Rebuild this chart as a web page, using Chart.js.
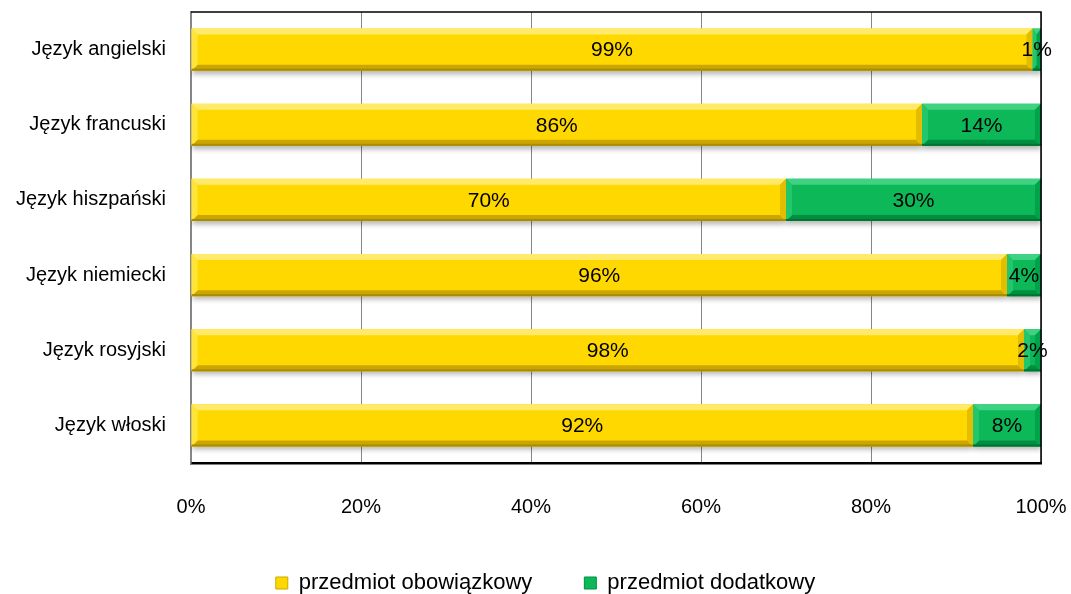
<!DOCTYPE html>
<html>
<head>
<meta charset="utf-8">
<script src="https://cdn.jsdelivr.net/npm/chart.js@4.4.1/dist/chart.umd.min.js"></script>
<style>
  html, body { margin: 0; padding: 0; background: #fff; }
  #wrap { width: 1071px; height: 594px; position: relative; }
</style>
</head>
<body>
<div id="wrap"><canvas id="chart" width="1071" height="594"></canvas></div>
<script>
// data
const categories = ['Język angielski', 'Język francuski', 'Język hiszpański', 'Język niemiecki', 'Język rosyjski', 'Język włoski']
const obowiazkowy = [99, 86, 70, 96, 98, 92]
const dodatkowy = [1, 14, 30, 4, 2, 8]
const tickLabels = ['0%', '20%', '40%', '60%', '80%', '100%']
const seriesNames = ['przedmiot obowiązkowy', 'przedmiot dodatkowy']

const FONT = "'Liberation Sans', Arial, sans-serif"

// bevel shades per series
const shades = [
  { top: '#FFEA6A', bottom: '#CCA600', left: '#FFE43E', right: '#E2BD00', line: '#A98C00' },
  { top: '#40D283', bottom: '#008F40', left: '#22C66C', right: '#00A24A', line: '#007433' }
]

const noPad = scale => {
  scale.paddingTop = 0
  scale.paddingBottom = 0
  scale.paddingLeft = 0
  scale.paddingRight = 0
}

// the legend sits a bit right of centre in the original
const legendShift = {
  id: 'legendShift',
  afterLayout(chart) {
    chart.legend.left += 25
    chart.legend.right += 25
  }
}

const bevelPlugin = {
  id: 'bevel',
  beforeDatasetsDraw(chart) {
    const ctx = chart.ctx
    ctx.save()
    ctx.shadowColor = 'rgba(0,0,0,0.28)'
    ctx.shadowBlur = 5
    ctx.shadowOffsetY = 4
  },
  afterDatasetsDraw(chart) {
    const ctx = chart.ctx
    ctx.restore()
    const b = 6
    chart.data.datasets.forEach((ds, i) => {
      const s = shades[i]
      chart.getDatasetMeta(i).data.forEach(el => {
        const p = el.getProps(['x', 'y', 'base', 'height'], true)
        const x0 = Math.min(p.x, p.base), x1 = Math.max(p.x, p.base)
        const y0 = p.y - p.height / 2, y1 = p.y + p.height / 2
        if (x1 - x0 < 1) return
        const bb = Math.min(b, (x1 - x0) / 2)
        const poly = (pts, c) => {
          ctx.beginPath()
          ctx.moveTo(pts[0][0], pts[0][1])
          pts.slice(1).forEach(q => ctx.lineTo(q[0], q[1]))
          ctx.closePath()
          ctx.fillStyle = c
          ctx.fill()
        }
        poly([[x0, y0], [x1, y0], [x1 - bb, y0 + b], [x0 + bb, y0 + b]], s.top)
        poly([[x0, y1], [x1, y1], [x1 - bb, y1 - b], [x0 + bb, y1 - b]], s.bottom)
        poly([[x0, y0], [x0 + bb, y0 + b], [x0 + bb, y1 - b], [x0, y1]], s.left)
        poly([[x1, y0], [x1 - bb, y0 + b], [x1 - bb, y1 - b], [x1, y1]], s.right)
        ctx.fillStyle = s.line
        ctx.fillRect(x0, y1 - 2, x1 - x0, 2)
      })
    })

    // value labels
    ctx.save()
    ctx.font = '21px ' + FONT
    ctx.fillStyle = '#000'
    ctx.textAlign = 'center'
    ctx.textBaseline = 'middle'
    chart.data.datasets.forEach((ds, i) => {
      chart.getDatasetMeta(i).data.forEach((el, j) => {
        const p = el.getProps(['x', 'y', 'base'], true)
        ctx.fillText(ds.data[j] + '%', (p.x + p.base) / 2, p.y + 1)
      })
    })
    ctx.restore()

    // plot area frame (top / right)
    const a = chart.chartArea
    ctx.save()
    ctx.strokeStyle = '#000'
    ctx.lineWidth = 1.5
    ctx.beginPath()
    ctx.moveTo(a.left, a.top)
    ctx.lineTo(a.right, a.top)
    ctx.lineTo(a.right, a.bottom)
    ctx.stroke()
    ctx.restore()
  }
}

const ctx = document.getElementById('chart')

new Chart(ctx, {
  type: 'bar',
  data: {
    labels: categories,
    datasets: [
      {
        label: seriesNames[0],
        data: obowiazkowy,
        backgroundColor: '#FFD800',
        borderWidth: 0
      },
      {
        label: seriesNames[1],
        data: dodatkowy,
        backgroundColor: '#0DB859',
        borderWidth: 0
      }
    ]
  },
  options: {
    indexAxis: 'y',
    responsive: false,
    animation: false,
    events: [],
    layout: { padding: { top: 12, right: 30, left: 0, bottom: -10 } },
    datasets: {
      bar: { categoryPercentage: 1, barPercentage: 0.56 }
    },
    scales: {
      x: {
        stacked: true,
        min: 0,
        max: 100,
        afterFit(scale) { scale.height = 57; noPad(scale) },
        ticks: {
          stepSize: 20,
          padding: 32,
          color: '#000',
          font: { family: FONT, size: 20 },
          callback: (v, i) => tickLabels[i]
        },
        grid: { color: '#868686', lineWidth: 1, drawTicks: false },
        border: { color: '#000', width: 2.5 }
      },
      y: {
        stacked: true,
        afterFit(scale) { scale.width = 191; noPad(scale) },
        ticks: {
          padding: 25,
          color: '#000',
          font: { family: FONT, size: 20 }
        },
        grid: { display: false, drawTicks: false },
        border: { color: '#868686', width: 1.5 }
      }
    },
    plugins: {
      legend: {
        position: 'bottom',
        labels: {
          color: '#000',
          font: { family: FONT, size: 22 },
          boxWidth: 12,
          boxHeight: 12,
          padding: 52,
          generateLabels(chart) {
            return chart.data.datasets.map((ds, i) => ({
              text: ds.label,
              fillStyle: ds.backgroundColor,
              strokeStyle: shades[i].bottom,
              lineWidth: 1,
              datasetIndex: i
            }))
          }
        }
      },
      tooltip: { enabled: false }
    }
  },
  plugins: [bevelPlugin, legendShift]
})
</script>
</body>
</html>
